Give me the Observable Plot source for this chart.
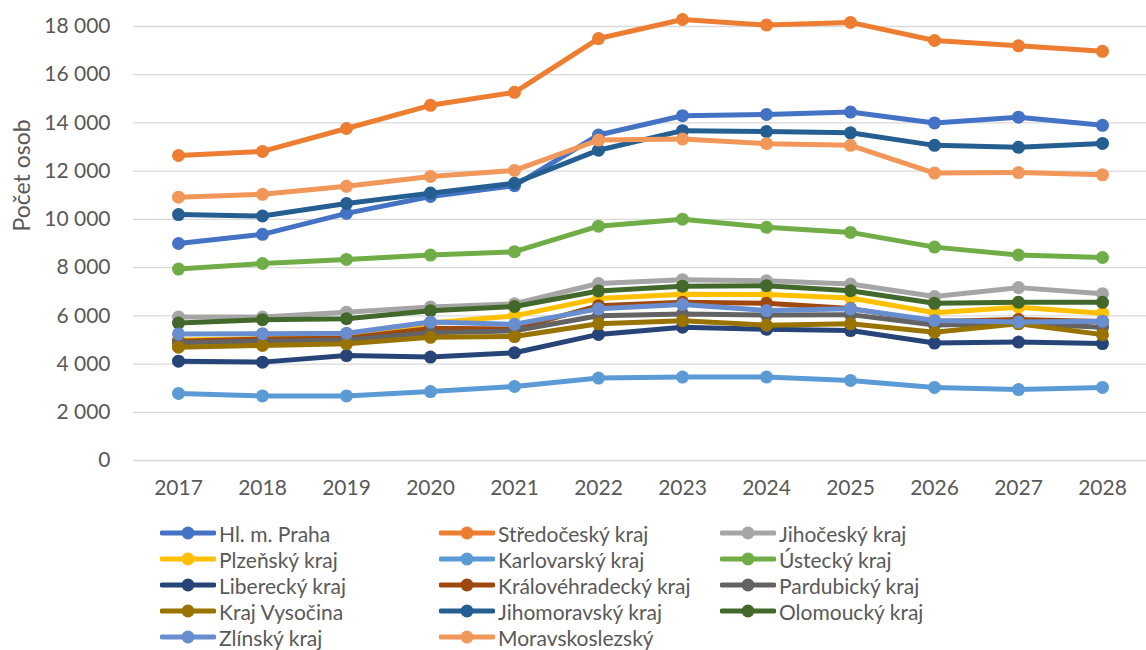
<!DOCTYPE html>
<html>
<head>
<meta charset="utf-8">
<script src="https://cdn.jsdelivr.net/npm/d3@7"></script>
<script src="https://cdn.jsdelivr.net/npm/@observablehq/plot@0.6"></script>
<style>
  html, body { margin: 0; padding: 0; background: #fff; }
  #wrap { position: relative; width: 1146px; height: 650px; font-family: Lato, "Open Sans", sans-serif; }
  .leg { position: absolute; display: flex; align-items: center; height: 26px; font-size: 21px; color: #595959; white-space: nowrap; }
  .leg svg { margin-right: 3px; flex: none; }
</style>
</head>
<body>
<div id="wrap"></div>
<script>
const years = [2017, 2018, 2019, 2020, 2021, 2022, 2023, 2024, 2025, 2026, 2027, 2028];
const yTicks = [0, 2000, 4000, 6000, 8000, 10000, 12000, 14000, 16000, 18000];
const yLabel = "Počet osob";

const regions = ["Hl. m. Praha", "Středočeský kraj", "Jihočeský kraj", "Plzeňský kraj", "Karlovarský kraj", "Ústecký kraj", "Liberecký kraj", "Královéhradecký kraj", "Pardubický kraj", "Kraj Vysočina", "Jihomoravský kraj", "Olomoucký kraj", "Zlínský kraj", "Moravskoslezský"];
const colors = ["#4472C4", "#ED7D31", "#A5A5A5", "#FFC000", "#5B9BD5", "#70AD47", "#264478", "#9E480E", "#636363", "#997300", "#255E91", "#43682B", "#698ED0", "#F1975A"];

const praha           = [9000, 9380, 10250, 10950, 11400, 13500, 14300, 14350, 14450, 14000, 14240, 13900];
const stredocesky     = [12650, 12820, 13770, 14730, 15270, 17500, 18290, 18060, 18170, 17420, 17200, 16970];
const jihocesky       = [5950, 5950, 6150, 6370, 6500, 7340, 7500, 7450, 7320, 6800, 7170, 6920];
const plzensky        = [5000, 5050, 5100, 5700, 6000, 6720, 6900, 6880, 6740, 6130, 6360, 6110];
const karlovarsky     = [2780, 2680, 2680, 2860, 3070, 3420, 3460, 3460, 3320, 3030, 2940, 3030];
const ustecky         = [7940, 8170, 8340, 8520, 8660, 9720, 10010, 9670, 9460, 8850, 8520, 8420];
const liberecky       = [4120, 4080, 4350, 4290, 4470, 5230, 5530, 5440, 5390, 4870, 4910, 4850];
const kralovehradecky = [4950, 5040, 5070, 5480, 5450, 6420, 6560, 6520, 6300, 5760, 5850, 5760];
const pardubicky      = [4880, 4950, 5000, 5300, 5380, 6000, 6080, 6030, 6050, 5620, 5680, 5530];
const vysocina        = [4700, 4770, 4840, 5110, 5140, 5670, 5800, 5610, 5670, 5320, 5670, 5220];
const jihomoravsky    = [10200, 10140, 10660, 11090, 11500, 12870, 13680, 13640, 13590, 13070, 12990, 13150];
const olomoucky       = [5700, 5840, 5880, 6210, 6390, 7030, 7230, 7250, 7040, 6520, 6560, 6560];
const zlinsky         = [5250, 5260, 5280, 5740, 5650, 6290, 6470, 6220, 6290, 5810, 5740, 5780];
const moravskoslezsky = [10920, 11040, 11370, 11780, 12030, 13290, 13330, 13140, 13070, 11920, 11940, 11850];

const series = [praha, stredocesky, jihocesky, plzensky, karlovarsky, ustecky, liberecky, kralovehradecky, pardubicky, vysocina, jihomoravsky, olomoucky, zlinsky, moravskoslezsky];

const locale = d3.formatLocale({decimal: ",", thousands: " ", grouping: [3], currency: ["", ""]});
const fmt = locale.format(",d");

const marks = [
  Plot.gridY(yTicks, {stroke: "#d9d9d9", strokeOpacity: 1, strokeWidth: 1.3}),
  Plot.axisY(yTicks, {tickSize: 0, tickPadding: 23, tickFormat: fmt, fontSize: 21, fill: "#595959", label: null}),
  Plot.axisX(years, {tickSize: 0, tickPadding: 20, tickFormat: d => String(d), fontSize: 21, fill: "#595959", label: null}),
  Plot.text([yLabel], {text: d => d, frameAnchor: "left", dx: -111, dy: -12, rotate: -90, fontSize: 23, fill: "#595959"})
];
series.forEach((vals, i) => {
  const rows = years.map((y, j) => ({year: y, value: vals[j]}));
  marks.push(Plot.line(rows, {x: "year", y: "value", stroke: colors[i], strokeWidth: 5}));
  marks.push(Plot.dot(rows, {x: "year", y: "value", fill: colors[i], r: 6.5}));
});

const chart = Plot.plot({
  width: 1146,
  height: 505,
  marginLeft: 133,
  marginRight: 0,
  marginTop: 26,
  marginBottom: 45,
  style: {fontFamily: "Lato, 'Open Sans', sans-serif", fontSize: "21px", color: "#595959", background: "#fff"},
  x: {type: "point", domain: years, padding: 0.5},
  y: {domain: [0, 18000]},
  marks
});
chart.style.position = "absolute";
chart.style.left = "0px";
chart.style.top = "0px";
const wrap = document.getElementById("wrap");
wrap.appendChild(chart);

const colX = [160, 439, 720];
const rowY = [533, 559, 585, 611, 637];
regions.forEach((name, i) => {
  const col = i % 3, row = Math.floor(i / 3);
  const div = document.createElement("div");
  div.className = "leg";
  div.style.left = colX[col] + "px";
  div.style.top = (rowY[row] - 13) + "px";
  div.innerHTML = `<svg width="56" height="16"><line x1="2" y1="8" x2="54" y2="8" stroke="${colors[i]}" stroke-width="5" stroke-linecap="round"/><circle cx="28" cy="8" r="6.5" fill="${colors[i]}"/></svg><span>${name}</span>`;
  wrap.appendChild(div);
});
</script>
</body>
</html>
